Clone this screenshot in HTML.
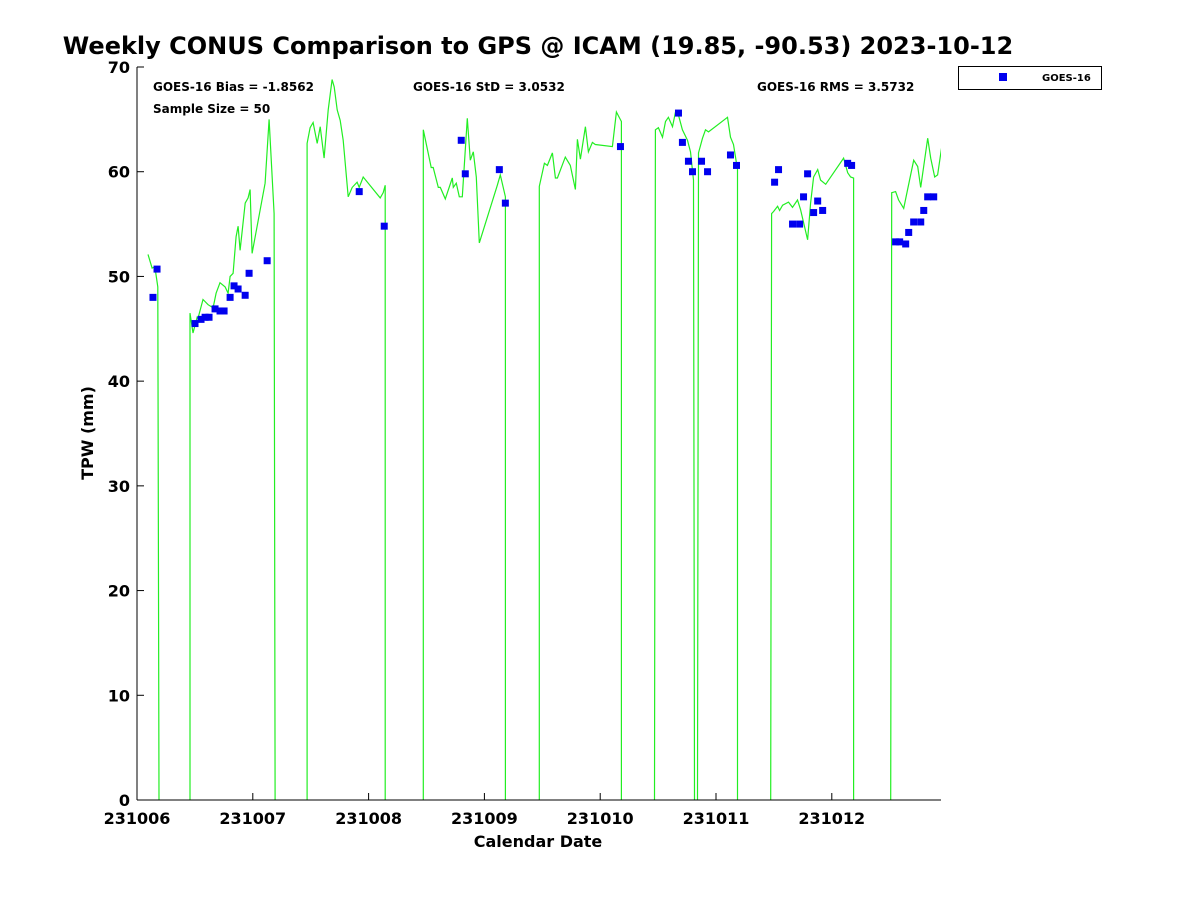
<!DOCTYPE html>
<html><head><meta charset="utf-8"><style>
body{margin:0;background:#fff;font-family:"Liberation Sans","DejaVu Sans",sans-serif;}
svg text{font-family:"DejaVu Sans","Liberation Sans",sans-serif;font-weight:bold;fill:#000}
</style></head><body>
<svg id="chart" width="1200" height="900" xmlns="http://www.w3.org/2000/svg">
<rect width="1200" height="900" fill="#fff"/>
<text x="538" y="54" font-size="24" text-anchor="middle">Weekly CONUS Comparison to GPS @ ICAM (19.85, -90.53) 2023-10-12</text>
<g id="plot"></g>
<g id="axes"></g>
<text x="153" y="91" font-size="12">GOES-16 Bias = -1.8562</text>
<text x="153" y="113" font-size="12">Sample Size = 50</text>
<text x="413" y="91" font-size="12">GOES-16 StD = 3.0532</text>
<text x="757" y="91" font-size="12">GOES-16 RMS = 3.5732</text>
<text x="538" y="847" font-size="16" text-anchor="middle">Calendar Date</text>
<text transform="translate(93,433) rotate(-90)" font-size="16" text-anchor="middle">TPW (mm)</text>
<g>
<rect x="958.5" y="66.5" width="143" height="23" fill="#fff" stroke="#000" stroke-width="1"/>
<rect x="999" y="73" width="8" height="8" fill="#0000ee"/>
<text x="1042" y="81" font-size="10">GOES-16</text>
</g>
</svg>
<script>
// GPS TPW line segments: [day offset from 231006, mm]
const gpsSegments = [
[[6.095,52.1],[6.13,50.8],[6.155,50.9],[6.18,49.0],[6.19,0]],
[[6.458,0],[6.458,46.5],[6.484,44.6],[6.519,46.1],[6.527,46.0],[6.570,47.8],[6.614,47.3],[6.657,47.0],[6.683,48.4],[6.717,49.4],[6.761,49.0],[6.787,48.4],[6.804,50.0],[6.830,50.3],[6.856,53.8],[6.873,54.8],[6.890,52.5],[6.934,57.0],[6.959,57.5],[6.977,58.3],[6.994,52.2],[7.106,58.9],[7.141,65.0],[7.184,56.0],[7.193,0]],
[[7.469,0],[7.469,62.7],[7.495,64.2],[7.521,64.7],[7.556,62.7],[7.582,64.3],[7.616,61.3],[7.651,65.9],[7.685,68.8],[7.703,68.1],[7.729,65.9],[7.755,64.9],[7.781,63.0],[7.824,57.6],[7.858,58.5],[7.901,59.0],[7.919,58.5],[7.953,59.5],[8.100,57.5],[8.126,58.0],[8.143,58.7],[8.143,0]],
[[8.472,0],[8.472,64.0],[8.541,60.4],[8.558,60.4],[8.602,58.5],[8.619,58.5],[8.662,57.4],[8.723,59.4],[8.731,58.5],[8.757,58.9],[8.783,57.6],[8.809,57.6],[8.852,65.1],[8.878,61.1],[8.904,61.9],[8.930,59.5],[8.956,53.2],[9.111,58.7],[9.137,59.7],[9.181,57.6],[9.181,0]],
[[9.474,0],[9.474,58.6],[9.518,60.8],[9.544,60.6],[9.587,61.8],[9.613,59.4],[9.630,59.4],[9.699,61.4],[9.742,60.6],[9.786,58.3],[9.803,63.1],[9.829,61.2],[9.872,64.3],[9.898,61.9],[9.933,62.8],[9.958,62.6],[10.105,62.4],[10.140,65.7],[10.183,64.8],[10.183,0]],
[[10.469,0],[10.477,64.0],[10.503,64.2],[10.538,63.3],[10.564,64.8],[10.589,65.2],[10.624,64.3],[10.650,65.7],[10.676,65.4],[10.710,64.0],[10.754,63.0],[10.780,61.9],[10.806,59.2],[10.814,0]],
[[10.840,0],[10.849,61.8],[10.883,63.2],[10.909,64.0],[10.935,63.8],[11.099,65.2],[11.125,63.3],[11.151,62.6],[11.186,60.2],[11.186,0]],
[[11.472,0],[11.480,56.0],[11.497,56.2],[11.532,56.7],[11.549,56.3],[11.575,56.8],[11.626,57.1],[11.661,56.6],[11.704,57.3],[11.730,56.4],[11.791,53.5],[11.817,57.0],[11.843,59.5],[11.878,60.2],[11.903,59.2],[11.947,58.8],[12.102,61.3],[12.137,59.9],[12.162,59.5],[12.188,59.4],[12.188,0]],
[[12.509,0],[12.517,58.0],[12.551,58.1],[12.577,57.3],[12.621,56.5],[12.655,58.3],[12.707,61.1],[12.742,60.5],[12.768,58.5],[12.828,63.2],[12.854,61.3],[12.889,59.5],[12.914,59.7],[12.958,63.0]]
];
const goesDays = [6.138,6.173,6.501,6.553,6.588,6.622,6.674,6.717,6.752,6.804,6.838,6.873,6.934,6.968,7.124,7.919,8.135,8.800,8.835,9.129,9.181,10.175,10.676,10.710,10.762,10.797,10.875,10.927,11.125,11.177,11.506,11.540,11.661,11.722,11.756,11.791,11.843,11.878,11.921,12.137,12.171,12.551,12.586,12.638,12.664,12.707,12.768,12.794,12.828,12.880];
const goesTPW = [48.0,50.7,45.5,45.9,46.1,46.1,46.9,46.7,46.7,48.0,49.1,48.8,48.2,50.3,51.5,58.1,54.8,63.0,59.8,60.2,57.0,62.4,65.6,62.8,61.0,60.0,61.0,60.0,61.6,60.6,59.0,60.2,55.0,55.0,57.6,59.8,56.1,57.2,56.3,60.8,60.6,53.3,53.3,53.1,54.2,55.2,55.2,56.3,57.6,57.6];
const xTickLabels = ["231006","231007","231008","231009","231010","231011","231012"];
const yTicks = [0,10,20,30,40,50,60,70];

const L=137,R=941,T=67,B=800,X0=6,X1=12.943,Y0=0,Y1=70;
const sx=d=>L+(d-X0)/(X1-X0)*(R-L);
const sy=v=>B-(v-Y0)/(Y1-Y0)*(B-T);
const NS="http://www.w3.org/2000/svg";
const plot=document.getElementById('plot'), axes=document.getElementById('axes');
function mk(tag,attrs,parent){const e=document.createElementNS(NS,tag);for(const k in attrs)e.setAttribute(k,attrs[k]);parent.appendChild(e);return e;}
const defs=mk('defs',{},plot);const cp=mk('clipPath',{id:'clip'},defs);mk('rect',{x:L,y:T-5,width:R-L,height:B-T+5},cp);
const g=mk('g',{'clip-path':'url(#clip)'},plot);
gpsSegments.forEach((seg,i)=>{
  const p=mk('polyline',{points:seg.map(q=>sx(q[0]).toFixed(1)+','+sy(q[1]).toFixed(1)).join(' '),fill:'none',stroke:'#22ee22','stroke-width':1.2},g);
  
  
});
goesDays.forEach((d,i)=>{
  const r=mk('rect',{x:sx(d)-3.5,y:sy(goesTPW[i])-3.5,width:7,height:7,fill:'#0000ee'},g);
  
  
});
mk('line',{x1:L,y1:T,x2:L,y2:B,stroke:'#000','stroke-width':1},axes);
mk('line',{x1:L,y1:B,x2:R,y2:B,stroke:'#000','stroke-width':1},axes);
yTicks.forEach(v=>{
  const y=sy(v);
  mk('line',{x1:L,y1:y,x2:L+7,y2:y,stroke:'#000'},axes);
  const t=mk('text',{x:L-7,y:y+6,'font-size':16,'text-anchor':'end'},axes);t.textContent=v;
  
  
});
xTickLabels.forEach((lab,i)=>{
  const x=sx(6+i);
  mk('line',{x1:x,y1:B,x2:x,y2:B-7,stroke:'#000'},axes);
  const t=mk('text',{x:x,y:B+24,'font-size':16,'text-anchor':'middle'},axes);t.textContent=lab;
  
  
});
</script>
</body></html>
